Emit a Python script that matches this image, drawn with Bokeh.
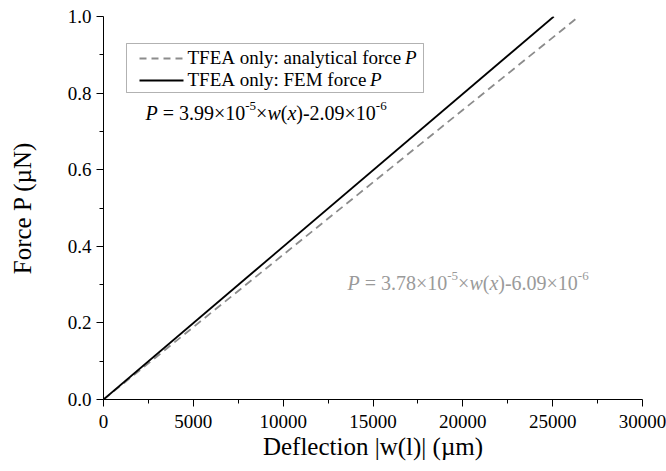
import glob
from bokeh.plotting import figure
from bokeh.models import Range1d, FixedTicker, PrintfTickFormatter, Label, BoxAnnotation
from bokeh.embed import file_html
from bokeh.resources import INLINE

# ---------------- data ----------------
fem_deflection = [0, 25063]        # um
fem_force = [0.0, 1.0]             # uN
ana_deflection = [0, 26455]        # um
ana_force = [0.0, 1.0]             # uN
x_ticks = [0, 5000, 10000, 15000, 20000, 25000, 30000]
x_minor = [2500, 7500, 12500, 17500, 22500, 27500]
y_ticks = [0.0, 0.2, 0.4, 0.6, 0.8, 1.0]
y_minor = [0.1, 0.3, 0.5, 0.7, 0.9]
legend_ana = "TFEA only: analytical force "
legend_fem = "TFEA only: FEM force "
fem_fit = ["3.99", "-5", "-2.09", "-6"]
ana_fit = ["3.78", "-5", "-6.09", "-6"]
x_title = "Deflection |w(l)| (\u00b5m)"
y_title = "Force P (\u00b5N)"

FONT = "Liberation Serif"
NB = "\u00a0"

# ------------- text measuring -------------
def _find(name):
    for root in ("/usr/share/fonts", "/usr/local/share/fonts", "/usr/share"):
        hits = glob.glob(f"{root}/**/{name}", recursive=True)
        if hits:
            return hits[0]
    return None

_REG = _find("LiberationSerif-Regular.ttf")
_ITA = _find("LiberationSerif-Italic.ttf")
_cache = {}

def text_w(text, size, italic):
    path = _ITA if italic else _REG
    try:
        from PIL import ImageFont
        key = (path, size)
        if key not in _cache:
            _cache[key] = ImageFont.truetype(path, size)
        return _cache[key].getlength(text)
    except Exception:
        return 0.5 * size * len(text)

# ------------- figure -------------
W, H = 666, 471
ML, MR, MT, MB = 103, 24, 16, 72
FL, FR, FT, FB = ML, W - MR, MT, H - MB   # frame in page px
X0, X1, Y0, Y1 = 0, 30000, 0.0, 1.0

p = figure(width=W, height=H, output_backend="svg", toolbar_location=None,
           x_range=Range1d(X0, X1), y_range=Range1d(Y0, Y1),
           min_border_left=ML, min_border_right=MR, min_border_top=MT, min_border_bottom=MB)
p.outline_line_color = None
p.xgrid.visible = False
p.ygrid.visible = False
p.background_fill_color = "white"
p.border_fill_color = "white"

for ax in (p.xaxis[0], p.yaxis[0]):
    ax.major_tick_out = 7
    ax.major_tick_in = 0
    ax.minor_tick_out = 4
    ax.minor_tick_in = 0
    ax.axis_line_color = "black"
    ax.major_tick_line_color = "black"
    ax.minor_tick_line_color = "black"
    ax.major_label_text_font = FONT
    ax.major_label_text_font_size = "19px"
    ax.major_label_text_color = "black"
    ax.axis_label_text_font = FONT
    ax.axis_label_text_font_size = "25px"
    ax.axis_label_text_font_style = "normal"
    ax.axis_label_text_color = "black"

p.xaxis.ticker = FixedTicker(ticks=x_ticks, minor_ticks=x_minor)
p.yaxis.ticker = FixedTicker(ticks=y_ticks, minor_ticks=y_minor)
p.xaxis.formatter = PrintfTickFormatter(format="%d")
p.yaxis.formatter = PrintfTickFormatter(format="%.1f")
p.xaxis.major_label_standoff = 8
p.yaxis.major_label_standoff = 5
p.xaxis.axis_label = x_title
p.yaxis.axis_label = y_title
p.xaxis.axis_label_standoff = 2
p.yaxis.axis_label_standoff = 29

p.line(ana_deflection, ana_force, line_color="#8c8c8c", line_width=1.8, line_dash="8 5")
p.line(fem_deflection, fem_force, line_color="black", line_width=1.8)

# ------------- annotation helpers -------------
def dx(px):
    return X0 + (px - FL) / (FR - FL) * (X1 - X0)

def dy(py):
    return Y0 + (FB - py) / (FB - FT) * (Y1 - Y0)

def runs(x0, y0, parts, color="black"):
    pos = 0.0
    for text, italic, size, rise in parts:
        p.add_layout(Label(x=dx(x0 + pos), y=dy(y0 - rise), text=text.replace(" ", NB),
                           text_font=FONT, text_font_size=f"{size}px",
                           text_font_style="italic" if italic else "normal",
                           text_color=color, text_baseline="alphabetic",
                           text_align="left"))
        pos += text_w(text, size, italic)
    return pos

# legend
p.add_layout(BoxAnnotation(left=dx(126), right=dx(423), top=dy(43), bottom=dy(92),
                           fill_color=None, fill_alpha=0, line_color="black", line_width=1))
p.segment(x0=[dx(139)], y0=[dy(58)], x1=[dx(183)], y1=[dy(58)],
          line_color="#8c8c8c", line_width=1.8, line_dash="7 5")
p.segment(x0=[dx(139)], y0=[dy(80)], x1=[dx(183)], y1=[dy(80)],
          line_color="black", line_width=1.8)
runs(187, 57, [(legend_ana, False, 19, 0), ("P", True, 19, 0)])
runs(187, 79, [(legend_fem, False, 19, 0), ("P", True, 19, 0)])

# fit equations
def eq_parts(vals):
    a, ea, b, eb = vals
    return [("P", True, 20, 0), (f" = {a}\u00d710", False, 20, 0), (ea, False, 13, 7),
            ("\u00d7", False, 20, 0), ("w", True, 20, 0), ("(", False, 20, 0),
            ("x", True, 20, 0), (f"){b}\u00d710", False, 20, 0), (eb, False, 13, 7)]

runs(145, 112, eq_parts(fem_fit), color="black")
runs(347, 282, eq_parts(ana_fit), color="#9a9a9a")

open("out.html", "w").write(file_html(p, INLINE))
